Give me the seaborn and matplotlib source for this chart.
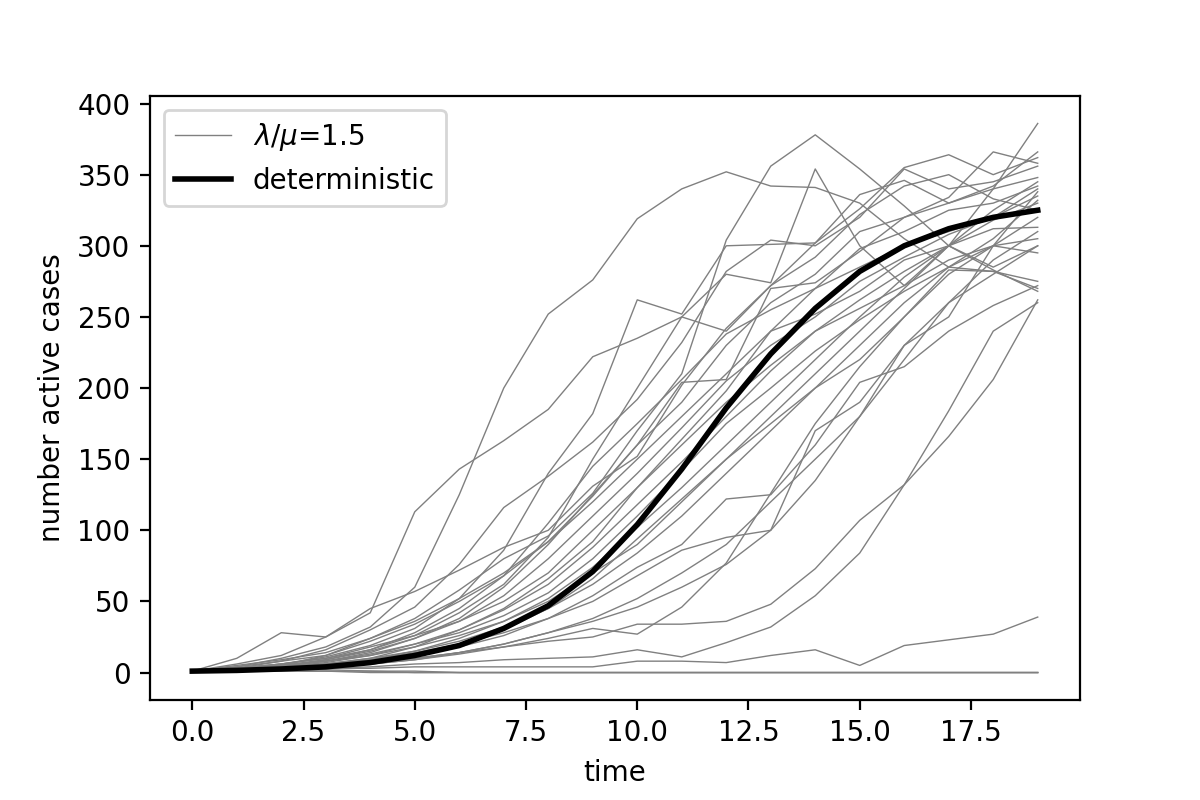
import numpy as np
import pandas as pd
import seaborn as sns
import matplotlib
matplotlib.use("Agg")
import matplotlib.pyplot as plt

# time steps
time = list(range(20))

# stochastic runs (active cases)
runs = [
    [1, 4, 10, 18, 32, 60, 125, 200, 252, 276, 319, 340, 352, 342, 341, 330, 305, 285, 282, 275],
    [1, 6, 12, 25, 42, 113, 143, 163, 185, 222, 235, 250, 240, 272, 292, 322, 342, 350, 333, 325],
    [1, 3, 8, 16, 30, 46, 76, 116, 138, 162, 192, 232, 282, 304, 300, 320, 354, 340, 345, 356],
    [1, 10, 28, 25, 45, 57, 72, 88, 100, 131, 152, 202, 242, 272, 302, 326, 355, 364, 350, 362],
    [1, 3, 6, 11, 19, 31, 52, 86, 140, 182, 262, 252, 300, 301, 302, 336, 346, 330, 342, 366],
    [1, 2, 5, 12, 24, 38, 58, 80, 96, 126, 170, 210, 304, 356, 378, 354, 328, 300, 285, 300],
    [1, 2, 4, 9, 16, 26, 42, 62, 95, 150, 200, 250, 280, 274, 354, 300, 272, 300, 283, 268],
    [1, 5, 9, 14, 24, 36, 52, 70, 92, 124, 160, 204, 206, 270, 274, 296, 320, 334, 366, 358],
    [1, 3, 6, 10, 16, 28, 45, 68, 105, 145, 175, 206, 238, 255, 270, 285, 300, 310, 320, 340],
    [1, 2, 4, 8, 14, 24, 38, 60, 90, 125, 160, 190, 230, 260, 280, 310, 320, 330, 340, 348],
    [1, 4, 8, 12, 22, 34, 50, 68, 92, 120, 150, 180, 210, 240, 252, 268, 290, 300, 312, 313],
    [1, 3, 5, 9, 15, 24, 36, 54, 80, 110, 140, 172, 205, 230, 250, 275, 292, 308, 320, 335],
    [1, 2, 3, 6, 10, 18, 30, 45, 66, 92, 130, 164, 198, 240, 270, 298, 310, 325, 330, 342],
    [1, 2, 4, 7, 12, 20, 30, 44, 62, 88, 118, 148, 180, 212, 240, 262, 282, 300, 318, 330],
    [1, 3, 6, 10, 18, 26, 36, 50, 70, 100, 130, 160, 190, 216, 240, 256, 272, 290, 300, 305],
    [1, 2, 5, 8, 13, 20, 28, 40, 56, 80, 110, 142, 175, 200, 226, 248, 268, 285, 300, 320],
    [1, 2, 3, 5, 9, 15, 24, 36, 52, 74, 102, 130, 160, 190, 220, 250, 278, 300, 340, 386],
    [1, 2, 3, 4, 7, 12, 20, 30, 45, 66, 94, 122, 150, 180, 210, 240, 270, 300, 325, 345],
    [1, 3, 5, 8, 12, 18, 26, 36, 50, 70, 90, 120, 150, 175, 200, 220, 250, 280, 300, 295],
    [1, 2, 4, 6, 10, 15, 22, 32, 45, 62, 84, 110, 140, 170, 200, 230, 260, 285, 305, 332],
    [1, 2, 3, 5, 8, 12, 18, 26, 38, 54, 74, 90, 122, 125, 160, 204, 215, 240, 258, 272],
    [1, 2, 4, 6, 9, 14, 20, 28, 38, 50, 68, 86, 95, 100, 170, 190, 230, 260, 280, 300],
    [1, 1, 2, 4, 6, 10, 14, 20, 28, 38, 52, 70, 90, 120, 150, 180, 230, 250, 300, 338],
    [1, 2, 3, 4, 6, 9, 14, 20, 28, 36, 46, 60, 76, 100, 135, 180, 220, 260, 290, 310],
    [1, 2, 3, 5, 7, 10, 14, 18, 22, 25, 34, 34, 36, 48, 73, 107, 132, 166, 206, 262],
    [1, 2, 3, 4, 6, 9, 13, 18, 24, 31, 27, 46, 77, 126, 175, 215, 250, 283, 282, 270],
    [1, 1, 2, 3, 4, 6, 7, 9, 10, 11, 16, 11, 21, 32, 54, 84, 132, 184, 240, 260],
    [1, 2, 2, 3, 3, 4, 4, 4, 4, 4, 8, 8, 7, 12, 16, 5, 19, 23, 27, 39],
    [1, 1, 1, 1, 0, 0, 0, 0, 0, 0, 0, 0, 0, 0, 0, 0, 0, 0, 0, 0],
    [1, 2, 1, 1, 1, 0, 0, 0, 0, 0, 0, 0, 0, 0, 0, 0, 0, 0, 0, 0],
    [1, 1, 2, 2, 1, 1, 0, 0, 0, 0, 0, 0, 0, 0, 0, 0, 0, 0, 0, 0],
]

# deterministic solution
deterministic = [1, 1.5, 2.5, 4, 7, 12, 19, 31, 47, 71, 104, 143, 186, 224, 256, 282, 300, 312, 320, 325]

fig, ax = plt.subplots(figsize=(6, 4), dpi=200)
fig.subplots_adjust(bottom=0.125, top=0.88)

for i, r in enumerate(runs):
    df = pd.DataFrame({"time": time, "cases": r})
    sns.lineplot(data=df, x="time", y="cases", ax=ax, color="gray", linewidth=0.5,
                 label=r"$\lambda/\mu$=1.5" if i == 0 else None, legend=False)

df_det = pd.DataFrame({"time": time, "cases": deterministic})
sns.lineplot(data=df_det, x="time", y="cases", ax=ax, color="black", linewidth=2,
             label="deterministic", legend=False)

ax.set_xlabel("time")
ax.set_ylabel("number active cases")
ax.legend(loc="upper left")

plt.savefig("out.png", dpi=200)
